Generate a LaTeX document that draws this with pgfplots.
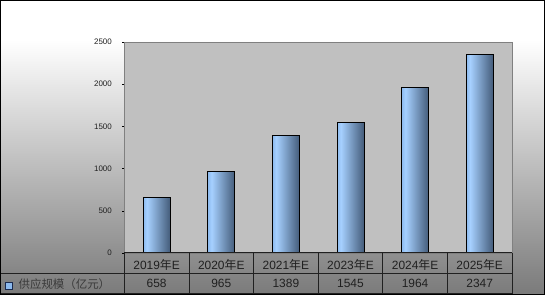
\documentclass[border=0pt]{standalone}
\usepackage{pgfplots}
\pgfplotsset{compat=1.18}
\usepackage{pgfplotstable}
\usepackage{fontspec}
\setmainfont{Liberation Sans}
\newfontfamily\cjk{Noto Sans CJK SC}

\definecolor{plotbg}{HTML}{C0C0C0}
\definecolor{bgbot}{HTML}{7A7A7A}
\definecolor{axgray}{HTML}{808080}
\definecolor{tblline}{HTML}{202020}
\definecolor{barA}{RGB}{140,186,238}
\definecolor{barB}{RGB}{166,208,255}
\definecolor{barC}{RGB}{68,92,122}
\definecolor{txt}{HTML}{202020}
\definecolor{lbltxt}{HTML}{3A3A3A}
\definecolor{markedge}{HTML}{1A2A50}

% light-to-dark horizontal fill of each bar (a path spans 25bp..75bp of it)
\pgfdeclarehorizontalshading{barshade}{100bp}{color(0bp)=(barA); color(25bp)=(barA); color(32bp)=(barB); color(75bp)=(barC); color(100bp)=(barC)}

% supply scale (100 million yuan)
\pgfplotstableread{
x   v
0.5 658
1.5 965
2.5 1389
3.5 1545
4.5 1964
5.5 2347
}\supply

\begin{document}
\begin{tikzpicture}
% page background
\fill[white] (0,255bp) rectangle (545bp,295bp);
\shade[top color=white, bottom color=bgbot] (0,0) rectangle (545bp,255bp);

\begin{axis}[
  at={(124bp,42bp)}, anchor=south west,
  scale only axis, width=388bp, height=211bp,
  xmin=0, xmax=6, ymin=0, ymax=2500,
  clip=false,
  axis background/.style={fill=plotbg},
  axis line style={draw=axgray},
  ytick={0,500,1000,1500,2000,2500},
  xtick={0.5,1.5,2.5,3.5,4.5,5.5},
  xticklabels={2019{\cjk 年}E,2020{\cjk 年}E,2021{\cjk 年}E,2023{\cjk 年}E,2024{\cjk 年}E,2025{\cjk 年}E},
  xtick style={draw=none},
  ytick style={draw=black},
  ytick pos=left,
  tick align=outside, major tick length=2bp,
  /pgf/number format/assume math mode=true,
  /pgf/number format/1000 sep={},
  yticklabel style={font=\fontsize{8}{9}\selectfont, text=txt, xshift=-7bp},
  xticklabel style={font=\fontsize{12}{14}\selectfont, text=txt, anchor=center, yshift=-10.5bp},
  every node near coord/.append style={anchor=center, font=\fontsize{12}{14}\selectfont, text=txt},
]
% one path per bar so each bar gets its own shading
\pgfplotsinvokeforeach{0,...,5}{
  \addplot[ybar, bar width=27bp, draw=black, line width=0.9bp, shading=barshade, forget plot,
           restrict x to domain=#1:#1.9]
    table[x=x, y=v] {\supply};
}
% value row of the data table, printed from the same numbers
\addplot[draw=none, mark=none, forget plot, nodes near coords, point meta=explicit]
  table[x=x, y expr=-367, meta=v] {\supply};
\end{axis}

% data table grid
\begin{scope}[draw=tblline, line width=0.9bp]
\draw (124bp,42bp) -- (512bp,42bp);
\draw (0,21bp) -- (512bp,21bp);
\draw (0,1bp) -- (512bp,1bp);
\foreach \k in {0,...,6} {
  \draw ({(124+64.667*\k)*1bp},1bp) -- ({(124+64.667*\k)*1bp},42bp);
}
\end{scope}

% legend key and series name
\draw[fill=barA, draw=markedge, line width=0.8bp] (5bp,5bp) rectangle (12bp,12bp);
\node[font=\cjk\fontsize{11.5}{13}\selectfont, text=lbltxt, inner sep=0pt] at (64bp,11bp) {供应规模（亿元）};

% outer frame
\draw[black, line width=1bp] (0.5bp,0.5bp) rectangle (544.5bp,294.5bp);
\end{tikzpicture}
\end{document}
